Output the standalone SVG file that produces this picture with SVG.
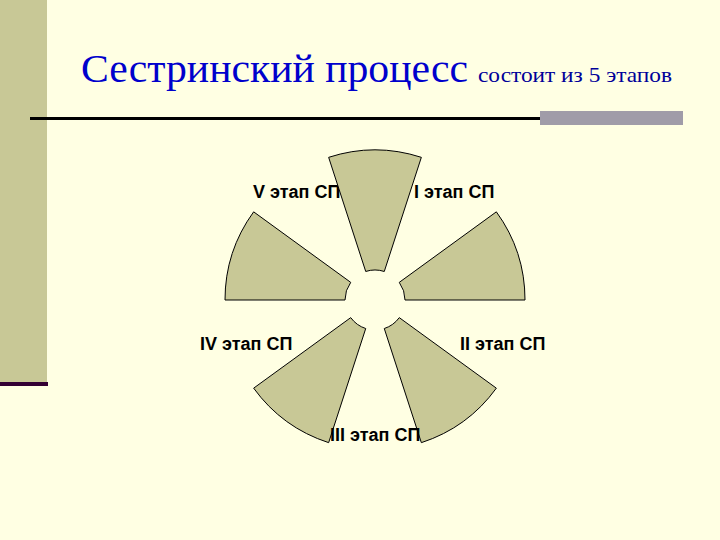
<svg xmlns="http://www.w3.org/2000/svg" width="720" height="540" viewBox="0 0 720 540">
<style>
.sector{fill:#C8C896;stroke:#000;stroke-width:1}
.lbl{font-family:"Liberation Sans",Arial,sans-serif;font-weight:bold;font-size:18px;fill:#000}
.title{font-family:"Liberation Serif","Times New Roman",serif;fill:#0000CC}
</style>
<rect x="0" y="0" width="720" height="540" fill="#FFFFE3"/>
<rect x="0" y="0" width="47" height="382" fill="#C8C896"/>
<rect x="0" y="382" width="48" height="4" fill="#330033"/>
<text class="title" x="81" y="82" font-size="41" textLength="387" lengthAdjust="spacingAndGlyphs">Сестринский процесс</text>
<text class="title" x="478" y="82" font-size="22" fill="#000099" style="fill:#000099" textLength="194" lengthAdjust="spacingAndGlyphs">состоит из 5 этапов</text>
<rect x="30" y="117" width="511" height="3" fill="#000"/>
<rect x="540" y="111" width="143" height="14" fill="#A09CA8"/>
<g id="label-V"><text class="lbl" x="253" y="198">V этап СП</text></g>
<g id="nodes">
<g id="stage-I"><path class="sector" d="M405,300 L525,300 A150,150 0 0 0 496.35,211.83 L399.27,282.37 A30,30 0 0 1 405,300 Z"/></g>
<g id="stage-top"><path class="sector" d="M384.27,271.47 L421.35,157.34 A150,150 0 0 0 328.65,157.34 L365.73,271.47 A30,30 0 0 1 384.27,271.47 Z"/></g>
<g id="stage-V"><path class="sector" d="M350.73,282.37 L253.65,211.83 A150,150 0 0 0 225,300 L345,300 A30,30 0 0 1 350.73,282.37 Z"/></g>
<g id="stage-IV"><path class="sector" d="M350.73,317.63 L253.65,388.17 A150,150 0 0 0 328.65,442.66 L365.73,328.53 A30,30 0 0 1 350.73,317.63 Z"/></g>
<g id="stage-II"><path class="sector" d="M384.27,328.53 L421.35,442.66 A150,150 0 0 0 496.35,388.17 L399.27,317.63 A30,30 0 0 1 384.27,328.53 Z"/></g>
</g>
<g id="labels">
<text class="lbl" x="414" y="198">I этап СП</text>
<text class="lbl" x="460" y="350">II этап СП</text>
<text class="lbl" x="330" y="441">III этап СП</text>
<text class="lbl" x="200" y="350">IV этап СП</text>
</g>
</svg>
